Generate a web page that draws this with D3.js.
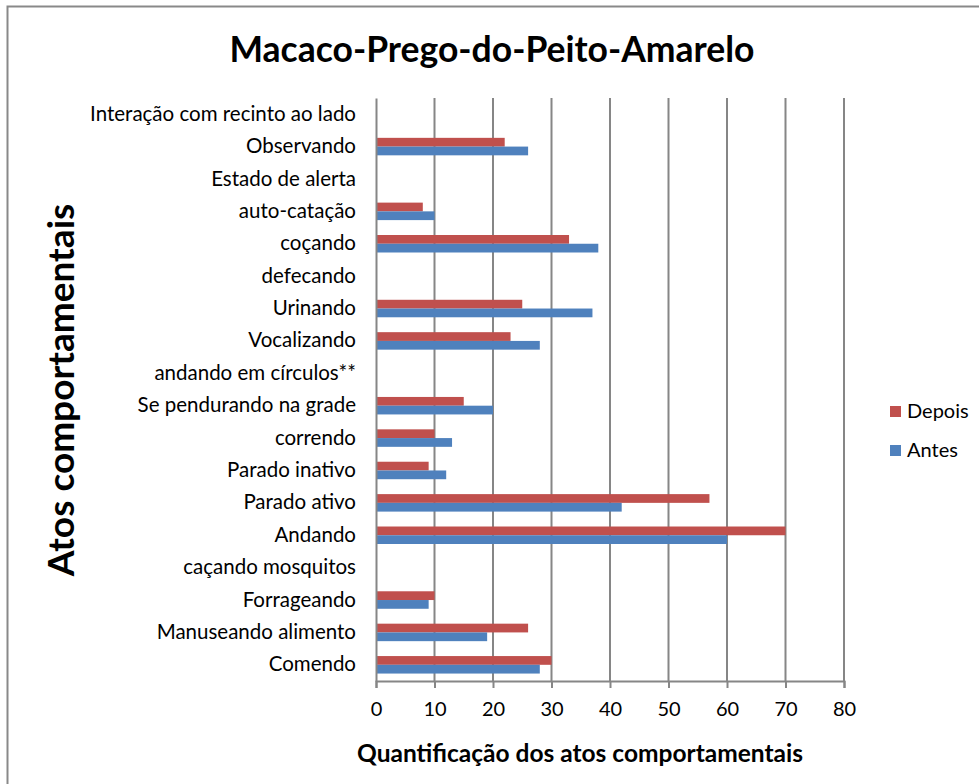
<!DOCTYPE html>
<html><head><meta charset="utf-8">
<script src="https://cdn.jsdelivr.net/npm/d3@7"></script>
<style>body{margin:0;background:#fff}svg{display:block}</style>
</head><body>
<script>
const categories = ["Interação com recinto ao lado","Observando","Estado de alerta","auto-catação","coçando","defecando","Urinando","Vocalizando","andando em círculos**","Se pendurando na grade","correndo","Parado inativo","Parado ativo","Andando","caçando mosquitos","Forrageando","Manuseando alimento","Comendo"];
const depois = [0,22,0,8,33,0,25,23,0,15,10,9,57,70,0,10,26,30];
const antes  = [0,26,0,10,38,0,37,28,0,20,13,12,42,60,0,9,19,28];
const xTicks = [0,10,20,30,40,50,60,70,80];
const seriesNames = ["Depois","Antes"];
const colors = {Depois:"#C0504D", Antes:"#4F81BD"};

(function(){
const W=979,H=784;
const svg=d3.select("body").append("svg").attr("width",W).attr("height",H);
const font="Lato, 'Open Sans', sans-serif";
svg.append("rect").attr("x",7.5).attr("y",6.5).attr("width",990).attr("height",800).attr("fill","#fff").attr("stroke","#898989").attr("stroke-width",2);

const pl=376,pr=844,pt=98,pb=681;
const x=d3.scaleLinear().domain([0,80]).range([pl,pr]);
const y=d3.scaleBand().domain(categories).range([pt,pb]).paddingInner(0.46).paddingOuter(0.23);
const sub=d3.scaleBand().domain(seriesNames).range([0,y.bandwidth()]);

svg.append("g").selectAll("line").data(xTicks.slice(1)).join("line")
 .attr("x1",d=>x(d)).attr("x2",d=>x(d)).attr("y1",pt).attr("y2",pb)
 .attr("stroke","#868686").attr("stroke-width",2);

const data=categories.map((c,i)=>({c,Depois:depois[i],Antes:antes[i]}));
seriesNames.forEach(s=>{
 svg.append("g").selectAll("rect").data(data).join("rect")
  .attr("x",x(0)).attr("y",d=>y(d.c)+sub(s)).attr("height",sub.bandwidth())
  .attr("width",d=>x(d[s])-x(0)).attr("fill",colors[s]);
});

const xa=svg.append("g").attr("transform",`translate(0,${pb})`)
 .call(d3.axisBottom(x).tickValues(xTicks).tickSize(7).tickPadding(14));
xa.select(".domain").attr("stroke","#868686").attr("stroke-width",2);
xa.selectAll(".tick line").attr("stroke","#868686").attr("stroke-width",2);
xa.selectAll(".tick text").attr("font-family",font).attr("font-size",20).attr("fill","#000");

const ya=svg.append("g").attr("transform",`translate(${pl},0)`)
 .call(d3.axisLeft(y).tickSize(0).tickPadding(20));
ya.select(".domain").attr("stroke","#868686").attr("stroke-width",2);
ya.selectAll(".tick text").attr("font-family",font).attr("font-size",20.5).attr("fill","#000");

svg.append("text").attr("x",492).attr("y",62).attr("text-anchor","middle")
 .attr("font-family",font).attr("font-weight","bold").attr("font-size",35.5).text("Macaco-Prego-do-Peito-Amarelo");
svg.append("text").attr("x",580).attr("y",762).attr("text-anchor","middle")
 .attr("font-family",font).attr("font-weight","bold").attr("font-size",24.5).text("Quantificação dos atos comportamentais");
svg.append("text").attr("transform","translate(74,390) rotate(-90)").attr("text-anchor","middle")
 .attr("font-family",font).attr("font-weight","bold").attr("font-size",37).text("Atos comportamentais");

const lg=svg.append("g");
seriesNames.forEach((s,i)=>{
 lg.append("rect").attr("x",890).attr("y",[406,445][i]).attr("width",11).attr("height",11).attr("fill",colors[s]);
 lg.append("text").attr("x",907).attr("y",[418,457][i]).attr("font-family",font).attr("font-size",20).text(s);
});
})();
</script>
</body></html>
